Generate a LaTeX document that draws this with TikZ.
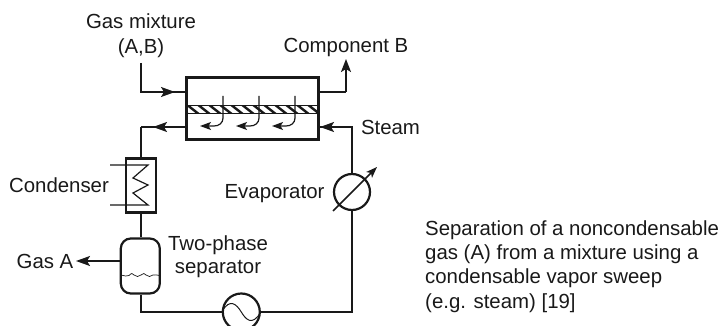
\documentclass[tikz,border=0pt]{standalone}
\usepackage{fontspec}
\setmainfont{Liberation Sans}
\usetikzlibrary{arrows.meta}
\definecolor{ink}{gray}{0.1}
\tikzset{
 pipe/.style={line width=1.5pt,draw=ink},
 thin pipe/.style={line width=1.2pt,draw=ink},
 vessel/.style={draw=ink,line width=2.2pt,inner sep=0pt},
 lbl/.style={font=\fontsize{20.4}{24.3}\selectfont,text=ink,inner sep=0pt,anchor=base},
 flow/.style={pipe,-{Stealth[length=14pt,width=10pt,inset=3pt]}},
 flowv/.style={pipe,-{Stealth[length=13pt,width=10pt,inset=3pt]}},
 small flow/.style={thin pipe,-{Stealth[length=11pt,width=8pt,inset=2.5pt]}},
}
\begin{document}
\begin{tikzpicture}[x=1pt,y=-1pt]
\useasboundingbox (0,0) rectangle (722,326);
\clip (0,0) rectangle (722,326);
\coordinate (inA) at (141,63);
\coordinate (inB) at (141,92);
\coordinate (inT) at (175,92);
\coordinate (outA) at (346,92);
\coordinate (outB) at (346,59);
\coordinate (lA) at (141,127);
\coordinate (lT) at (153,127);
\coordinate (stA) at (352,127);
\coordinate (stT) at (320,127);
% module
\node[vessel,line width=3pt,minimum width=132pt,minimum height=62pt] (mod) at (252,108.75) {};
\begin{scope}
\clip (187,106) rectangle (317,113);
\foreach \x in {175,186,...,325}{
 \draw[line width=2.4pt,draw=ink] (\x,104) -- (\x+14,115);
}
\end{scope}
\node[draw=ink,line width=.9pt,minimum width=130pt,minimum height=7.4pt,inner sep=0pt] (mem) at (252,109.5) {};
% pipes
\draw[pipe] (inA) -- (inB) -- (mod.west |- inB);
\draw[flow] (inB) -- (inT);
\draw[pipe] (mod.east |- outA) -- (outA);
\draw[flowv] (outA) -- (outB);
\draw[pipe] (mod.west |- lA) -- (lA);
\draw[flow] (mod.west |- lT) -- (lT);
% condenser
\node[vessel,minimum width=30pt,minimum height=54pt] (cond) at (141.3,185.5) {};
\draw[pipe] (lA) -- (cond.north -| lA);
\draw[thin pipe,line join=miter] (110,165) -- (148,165) -- (133,178) -- (148,185) -- (133,193) -- (148,205) -- (110,205);
% separator
\node[vessel,rounded corners=10pt,minimum width=39pt,minimum height=55pt] (sep) at (140.3,266) {};
\draw[pipe] (cond.south -| lA) -- (sep.north -| lA);
\coordinate (gasA) at (76,261);
\draw[flow] (sep.west |- gasA) -- (gasA);
\draw[line width=.7pt,draw=ink] (121,275) .. controls (125,276) and (127,276.5) .. (129,275.5) .. controls (131,273) and (133,273) .. (134,275) .. controls (136,277) and (139,277) .. (141,275) .. controls (143,273) and (145,273) .. (146,275) .. controls (148,277) and (151,277) .. (153,275) .. controls (155,274.5) and (157,275) .. (159.5,275.5);
% pump
\node[vessel,circle,minimum size=37pt] (pump) at (241.3,312) {};
\draw[line width=1pt,draw=ink] (pump.west) .. controls (230,297) and (237,305) .. (241.3,312) .. controls (245.5,319) and (252,327) .. (pump.east);
% evaporator
\node[vessel,circle,minimum size=36pt] (evap) at (352,192) {};
\coordinate (ea) at (333,211);
\coordinate (eb) at (377,167);
\draw[pipe,-{Stealth[length=11pt,width=8pt,inset=2.5pt]}] (ea) -- (eb);
\draw[pipe] (sep.south -| lA) |- (pump.west);
\draw[pipe] (pump.east) -| (evap.south);
\draw[pipe] (evap.north) -- (stA) -- (mod.east |- stA);
\draw[flow] (stA) -- (stT);
% permeate arrows
\foreach \x in {223,259,295}{
 \draw[small flow] (\x,96) -- (\x,118) .. controls (\x,123) and (\x-4,126) .. (\x-9,126) -- (\x-23,126);
}
% text
\node[lbl] (t1) at (141,29) {Gas mixture};
\node[lbl] (t1b) at (141,53.5) {(A,B)};
\node[lbl] (t2) at (346,53) {Component B};
\node[lbl] (t3) at (390.5,134) {Steam};
\node[lbl] (t4) at (59,192) {Condenser};
\node[lbl] (t5) at (274.5,198) {Evaporator};
\node[lbl] (t6) at (218,250) {Two-phase};
\node[lbl] (t6b) at (218,273) {separator};
\node[lbl] (t7) at (45,268) {Gas A};
\node[lbl,anchor=base west] (t8) at (425,235) {Separation of a noncondensable};
\node[lbl,anchor=base west] (t9) at (425,259.3) {gas (A) from a mixture using a};
\node[lbl,anchor=base west] (t10) at (425,283.6) {condensable vapor sweep};
\node[lbl,anchor=base west] (t11) at (425,308) {(e.g. steam) [19]};
\end{tikzpicture}
\end{document}
